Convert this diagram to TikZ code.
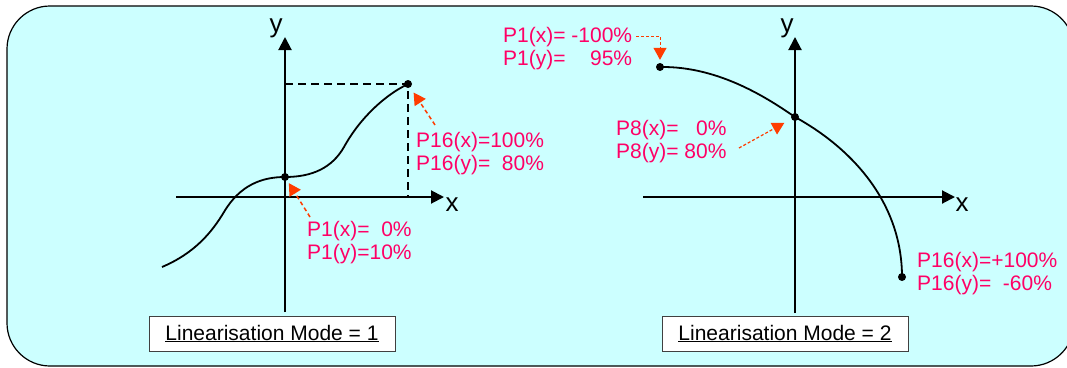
\documentclass[tikz,border=0pt]{standalone}
\usepackage{fontspec}
\setmainfont{Liberation Sans}
\usetikzlibrary{arrows.meta}
\definecolor{bgcyan}{RGB}{204,255,255}
\definecolor{lblpink}{RGB}{255,0,102}
\definecolor{arrred}{RGB}{255,60,0}
\begin{document}
\begin{tikzpicture}[x=1pt,y=-1pt,
 axis/.style={line width=2pt,-{Triangle[length=13pt,width=13pt]}},
 curve/.style={line width=1.8pt},
 dot/.style={circle,fill=black,inner sep=0pt,minimum size=8pt},
 lbl/.style={text=lblpink,font=\fontsize{21}{23}\selectfont,align=left,anchor=north west,inner sep=0pt},
 axlbl/.style={font=\fontsize{26}{28}\selectfont,inner sep=0pt},
 pointer/.style={arrred,line width=1.5pt,dash pattern=on 4pt off 3pt,-{Triangle[length=12pt,width=13pt]}},
 guide/.style={line width=1.6pt,dash pattern=on 8pt off 5pt},
 modebox/.style={draw=black!75,fill=white,line width=1pt,minimum width=246pt,minimum height=35pt,inner sep=0pt,font=\fontsize{21}{23}\selectfont}]
\useasboundingbox (0,0) rectangle (1067,367);
\begin{scope}
\clip (0,0) rectangle (1067,367);
\draw[fill=bgcyan,line width=1.2pt,rounded corners=43pt] (7,6) rectangle (1074,366);
\end{scope}

% ---------- left diagram ----------
\coordinate (yb1) at (285,312);
\coordinate (yt1) at (285,37);
\coordinate (xl1) at (176,197);
\coordinate (xr1) at (444,197);
\draw[axis] (yb1) -- (yt1);
\draw[axis] (xl1) -- (xr1);
\node[axlbl] (ylab1) at (276,28) {y};
\node[axlbl] (xlab1) at (452,205) {x};

\node[dot] (p1a) at (285,177) {};
\node[dot] (p16a) at (408,84) {};
\coordinate (gy1) at (285,84);
\coordinate (gx1) at (408,197);
\draw[guide] (gy1) -- (p16a.center) -- (gx1);

\coordinate (c1s) at (162,267);
\draw[curve] (c1s) .. controls (195,253) and (212,232) .. (224,212)
  .. controls (240,185) and (262,177) .. (p1a.center)
  .. controls (312,177) and (332,168) .. (344,147)
  .. controls (360,118) and (385,95) .. (p16a.center);

\node[lbl] (lbl1) at (307,221) {P1(x)=\hphantom{1}0\%\\P1(y)=10\%};
\node[lbl] (lbl16) at (416,132) {P16(x)=100\%\\P16(y)=\ \ 80\%};
\coordinate (pl1) at (310,217);
\coordinate (pl16) at (435,125);
\draw[pointer,shorten >=3pt] (pl1) -- (p1a);
\draw[pointer,shorten >=6pt] (pl16) -- (p16a);

\node[modebox] (mode1) at (272,333.5) {\underline{Linearisation Mode = 1}};

% ---------- right diagram ----------
\coordinate (yb2) at (795,313);
\coordinate (yt2) at (795,37);
\coordinate (xl2) at (643,197);
\coordinate (xr2) at (955,197);
\draw[axis] (yb2) -- (yt2);
\draw[axis] (xl2) -- (xr2);
\node[axlbl] (ylab2) at (787,28) {y};
\node[axlbl] (xlab2) at (962,205) {x};

\node[dot] (q1) at (660,67) {};
\node[dot] (q8) at (795,117) {};
\node[dot] (q16) at (902,277) {};
\draw[curve] (q1.center) .. controls (720,66) and (770,100) .. (q8.center)
  .. controls (855,150) and (902,205) .. (q16.center);

\node[lbl] (lblr1) at (503,27) {P1(x)= -100\%\\P1(y)=\hphantom{ -1}95\%};
\node[lbl] (lblr8) at (616,120) {P8(x)=\ \hphantom{8}0\%\\P8(y)= 80\%};
\node[lbl] (lblr16) at (917,252) {P16(x)=+100\%\\P16(y)=\ \ -60\%};

\coordinate (pr1) at (636,36);
\coordinate (pr8) at (739,148);
\draw[pointer,line width=1pt,dash pattern=on 3pt off 2pt,shorten >=3pt] (pr1) -| (q1);
\draw[pointer,line width=1.2pt,dash pattern=on 3pt off 2pt,shorten >=8pt] (pr8) -- (q8);

\node[modebox] (mode2) at (785,333.5) {\underline{Linearisation Mode = 2}};
\end{tikzpicture}
\end{document}
